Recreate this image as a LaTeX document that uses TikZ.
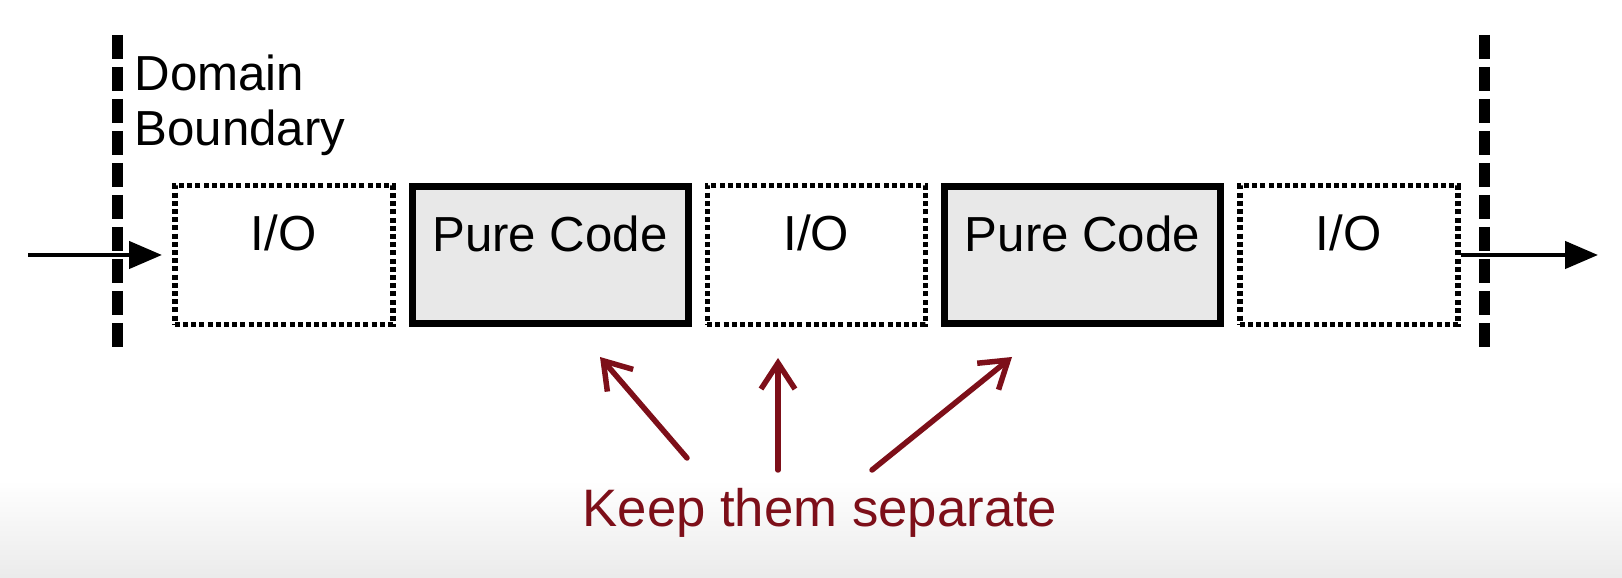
\documentclass[tikz,border=0pt]{standalone}
\usepackage{fontspec}
\setmainfont{Liberation Sans}
\usetikzlibrary{positioning}
\usetikzlibrary{arrows.meta}
\definecolor{sepred}{RGB}{125,15,25}
\definecolor{puregray}{RGB}{232,232,232}
\tikzstyle{iobox} = [rectangle, draw=black, line width=0.55mm, dash pattern=on 0.5mm off 0.32mm, minimum width=2.18cm, inner xsep=0pt, inner ysep=0.5mm, text height=6mm, text depth=6.9mm, font=\fontsize{14}{14}\selectfont]
\tikzstyle{purebox} = [rectangle, draw=black, fill=puregray, line width=0.7mm, minimum width=2.76cm, inner xsep=0pt, inner ysep=0.5mm, text height=6mm, text depth=6.7mm, font=\fontsize{14}{14}\selectfont]
\tikzstyle{boundary} = [line width=1.1mm, dash pattern=on 2.4mm off 0.8mm]
\tikzstyle{flow} = [line width=0.45mm, -{Triangle[length=3.3mm,width=2.7mm]}]
\tikzstyle{keep} = [draw=sepred, line width=0.55mm, line cap=round, -{Straight Barb[length=2.6mm,width=3.4mm]}]

\begin{document}
\begin{tikzpicture}[x=0.1mm, y=-0.1mm, node distance=1.3mm]
\useasboundingbox (0,0) rectangle (1622,578);
\shade[top color=white, bottom color=black!8] (0,480) rectangle (1622,578);

% Define nodes
\node[iobox, anchor=west]      (io1)   at (172,255) {I/O};
\node[purebox, right = of io1] (pure1) {Pure Code};
\node[iobox, right = of pure1] (io2)   {I/O};
\node[purebox, right = of io2] (pure2) {Pure Code};
\node[iobox, right = of pure2] (io3)   {I/O};

\node[anchor=north west, align=left, inner sep=0pt, font=\fontsize{14}{15.6}\selectfont] (domain) at (134,54) {Domain\\Boundary};
\node[anchor=base, text=sepred, inner sep=0pt, font=\fontsize{15}{18}\selectfont] (sep) at (820,527) {Keep them separate};

\coordinate (lb top) at (117,35);
\coordinate (lb bot) at (117,352);
\coordinate (rb top) at (1484,35);
\coordinate (rb bot) at (1484,352);
\coordinate (in)  at (28,255);
\coordinate (out) at (1598,255);

\coordinate (t1) at (687,458);
\coordinate (h1) at (600,357);
\coordinate (t2) at (778,470);
\coordinate (h2) at (778,358);
\coordinate (t3) at (872,470);
\coordinate (h3) at (1012,357);

% Boundaries
\draw[boundary] (lb top) -- (lb bot);
\draw[boundary] (rb top) -- (rb bot);

% Edges
\draw[flow, shorten >=1mm] (in) -- (io1);
\draw[flow] (io3) -- (out);
\draw[keep] (t1) -- (h1);
\draw[keep] (t2) -- (h2);
\draw[keep] (t3) -- (h3);
\end{tikzpicture}
\end{document}
